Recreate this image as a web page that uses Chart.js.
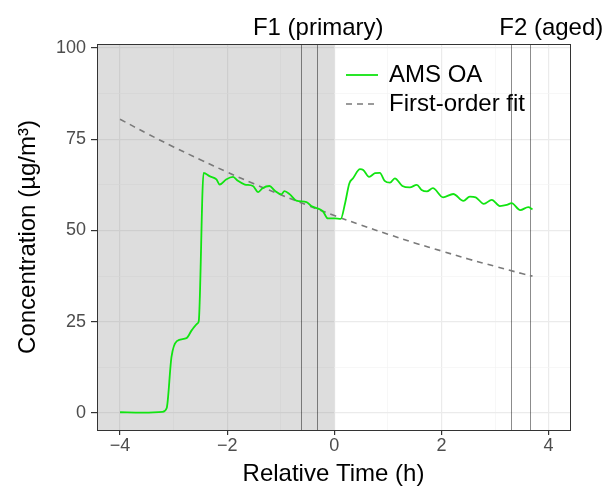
<!DOCTYPE html>
<html>
<head>
<meta charset="utf-8">
<script src="https://cdn.jsdelivr.net/npm/chart.js@4"></script>
<style>
  body { margin: 0; background: #fff; }
  #wrap { width: 616px; height: 495px; }
</style>
</head>
<body>
<div id="wrap"><canvas id="chart"></canvas></div>
<script>
const timeOA = [-4.0, -3.6, -3.21, -3.13, -3.04, -2.94, -2.76, -2.66, -2.55, -2.53, -2.44, -2.33, -2.20, -2.14,
  -2.02, -1.89, -1.80, -1.67, -1.52, -1.42, -1.34, -1.21, -1.11, -0.99, -0.93, -0.83, -0.71, -0.52,
  -0.43, -0.27, -0.21, -0.12, 0.01, 0.12, 0.20, 0.28, 0.35, 0.48, 0.54, 0.65, 0.76, 0.85, 0.94, 1.04,
  1.13, 1.27, 1.41, 1.54, 1.63, 1.73, 1.84, 2.03, 2.22, 2.41, 2.53, 2.64, 2.79, 2.94, 3.09, 3.22,
  3.31, 3.47, 3.62, 3.70];
const concOA = [0.2, 0.1, 0.3, 1.3, 15.3, 19.7, 20.5, 22.7, 24.6, 25.2, 65.8, 64.9, 64.0, 62.6,
  64.0, 64.7, 63.6, 62.6, 62.2, 60.5, 61.6, 62.2, 60.9, 59.9, 60.8, 59.9, 58.2, 57.8,
  56.7, 55.8, 55.2, 53.3, 53.3, 53.2, 57.4, 62.9, 64.3, 66.8, 66.6, 64.7, 65.7, 65.8, 63.6, 63.1,
  64.3, 62.2, 61.8, 62.5, 61.1, 60.7, 61.6, 59.1, 60.0, 58.1, 59.3, 59.1, 57.3, 58.4, 56.7, 57.0,
  57.5, 55.6, 56.4, 55.8];

// first-order fit (dashed)
const fitTime = [-4.0, -3.5, -3.0, -2.5, -2.0, -1.5, -1.0, -0.5, 0.0, 0.5, 1.0, 1.5, 2.0, 2.5, 3.0, 3.5, 3.7];
const fitConc = [80.5, 76.6, 72.9, 69.4, 66.0, 62.8, 59.8, 56.9, 54.1, 51.5, 49.0, 46.6, 44.4, 42.2, 40.2, 38.2, 37.5];

const seriesNames = ['AMS OA', 'First-order fit'];
const fLines = [-0.63, -0.33, 3.30, 3.65];
const fLabels = ['F1 (primary)', 'F2 (aged)'];
const fLabelPos = [-0.30, 4.05];
const shadeEnd = 0;

const FONT = '"Liberation Sans", Arial, sans-serif';
const GREEN = '#11e411';

const extras = {
  id: 'extras',
  beforeDatasetsDraw(chart) {
    const { ctx, chartArea: a, scales: { x } } = chart;
    ctx.save();
    // grey shading before t = 0
    ctx.fillStyle = 'rgba(128,128,128,0.27)';
    const xs = x.getPixelForValue(shadeEnd);
    ctx.fillRect(a.left, a.top, xs - a.left, a.bottom - a.top);
    // filter period lines
    ctx.strokeStyle = 'rgba(0,0,0,0.45)';
    ctx.lineWidth = 1;
    fLines.forEach((v) => {
      const px = Math.round(x.getPixelForValue(v)) + 0.5;
      ctx.beginPath();
      ctx.moveTo(px, a.top);
      ctx.lineTo(px, a.bottom);
      ctx.stroke();
    });
    ctx.restore();
  },
  afterDatasetsDraw(chart) {
    const { ctx, chartArea: a, scales: { x } } = chart;
    ctx.save();
    // panel border
    ctx.strokeStyle = '#333';
    ctx.lineWidth = 1;
    ctx.strokeRect(Math.round(a.left) + 0.5, Math.round(a.top) + 0.5,
      Math.round(a.right - a.left), Math.round(a.bottom - a.top));

    // labels above the plot
    ctx.fillStyle = '#000';
    ctx.font = '24px ' + FONT;
    ctx.textAlign = 'center';
    ctx.textBaseline = 'alphabetic';
    fLabels.forEach((t, i) => {
      ctx.fillText(t, x.getPixelForValue(fLabelPos[i]), 35);
    });

    // legend
    ctx.textAlign = 'left';
    ctx.textBaseline = 'middle';
    const rows = [75, 104];
    chart.data.datasets.forEach((ds, i) => {
      const yy = rows[i];
      ctx.strokeStyle = ds.borderColor;
      ctx.lineWidth = ds.borderWidth;
      ctx.setLineDash(ds.borderDash || []);
      ctx.beginPath();
      ctx.moveTo(346, yy);
      ctx.lineTo(378, yy);
      ctx.stroke();
      ctx.setLineDash([]);
      ctx.fillStyle = '#000';
      ctx.fillText(ds.label, 389, yy);
    });
    ctx.restore();
  }
};

const fmtX = (v) => (v % 2 === 0 ? (v < 0 ? '\u2212' + Math.abs(v) : String(v)) : '');

new Chart(document.getElementById('chart'), {
  type: 'line',
  data: {
    datasets: [
      {
        label: seriesNames[0],
        data: timeOA.map((t, i) => ({ x: t, y: concOA[i] })),
        borderColor: GREEN,
        borderWidth: 1.8,
        pointRadius: 0,
        cubicInterpolationMode: 'monotone'
      },
      {
        label: seriesNames[1],
        data: fitTime.map((t, i) => ({ x: t, y: fitConc[i] })),
        borderColor: '#7a7a7a',
        borderWidth: 1.6,
        borderDash: [6, 5],
        pointRadius: 0,
        tension: 0.4
      }
    ]
  },
  options: {
    responsive: true,
    maintainAspectRatio: false,
    animation: false,
    layout: { padding: { top: 44, right: 46, left: 0, bottom: 0 } },
    plugins: { legend: { display: false }, tooltip: { enabled: false } },
    scales: {
      x: {
        type: 'linear',
        min: -4.43,
        max: 4.40,
        afterFit: (s) => { s.height = 65; },
        ticks: {
          stepSize: 1,
          includeBounds: false,
          autoSkip: false,
          maxRotation: 0,
          padding: 0,
          color: '#4d4d4d',
          font: { family: FONT, size: 18 },
          callback: fmtX
        },
        grid: {
          color: (c) => (c.tick && c.tick.value % 2 === 0 ? '#ebebeb' : '#f4f4f4'),
          lineWidth: (c) => (c.tick && c.tick.value % 2 === 0 ? 1.2 : 0.7),
          tickColor: (c) => (c.tick && c.tick.value % 2 === 0 ? '#333' : 'rgba(0,0,0,0)'),
          tickLength: 5
        },
        border: { display: false },
        title: {
          display: true,
          text: 'Relative Time (h)',
          color: '#000',
          font: { family: FONT, size: 24 },
          padding: { top: 0, bottom: 6 }
        }
      },
      y: {
        min: -4.66,
        max: 101.1,
        afterFit: (s) => { s.width = 97; },
        ticks: {
          stepSize: 12.5,
          includeBounds: false,
          autoSkip: false,
          padding: 5,
          color: '#4d4d4d',
          font: { family: FONT, size: 18 },
          callback: (v) => (v % 25 === 0 ? String(v) : '')
        },
        grid: {
          color: (c) => (c.tick && c.tick.value % 25 === 0 ? '#ebebeb' : '#f4f4f4'),
          lineWidth: (c) => (c.tick && c.tick.value % 25 === 0 ? 1.2 : 0.7),
          tickColor: (c) => (c.tick && c.tick.value % 25 === 0 ? '#333' : 'rgba(0,0,0,0)'),
          tickLength: 6
        },
        border: { display: false },
        title: {
          display: true,
          text: 'Concentration (\u00b5g/m\u00b3)',
          color: '#000',
          font: { family: FONT, size: 24 },
          padding: { top: 14, bottom: 0 }
        }
      }
    }
  },
  plugins: [extras]
});
</script>
</body>
</html>
